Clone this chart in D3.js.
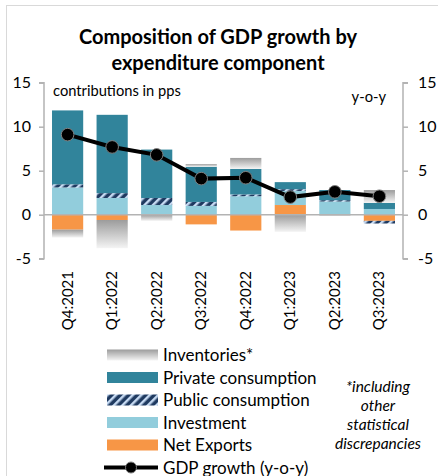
<!DOCTYPE html>
<html>
<head>
<meta charset="utf-8">
<script src="https://d3js.org/d3.v7.min.js"></script>
<style>
  body { margin: 0; background: #fff; }
  svg text { font-family: Lato, "Open Sans", sans-serif; fill: #000; }
</style>
</head>
<body>
<svg id="chart" width="438" height="476"></svg>
<script>
// data (pps contributions)
var quarters = ["Q4:2021", "Q1:2022", "Q2:2022", "Q3:2022", "Q4:2022", "Q1:2023", "Q2:2023", "Q3:2023"];
var netExports   = [-1.7, -0.6, 0.0, -1.1, -1.8, 1.1, 0.0, -0.7];
var investment   = [3.1, 1.9, 1.1, 1.0, 2.1, 1.6, 1.5, 0.65];
var publicCons   = [0.35, 0.55, 0.8, 0.45, 0.2, 0.2, 0.15, -0.3];
var privateCons  = [8.4, 8.9, 5.5, 4.0, 2.9, 0.8, 1.15, 0.7];
var inventories  = [-0.9, -3.2, -0.7, 0.3, 1.25, -1.95, -0.15, 1.45];
var gdpGrowth    = [9.1, 7.7, 6.8, 4.1, 4.2, 2.0, 2.6, 2.1];
var yTicks = [-5, 0, 5, 10, 15];

var series = [
  { name: "Net Exports", values: netExports, fill: "#F79646" },
  { name: "Investment", values: investment, fill: "#92CDDC" },
  { name: "Public consumption", values: publicCons, fill: "url(#hatch)" },
  { name: "Private consumption", values: privateCons, fill: "#31849B" },
  { name: "Inventories*", values: inventories, fill: "url(#invGrad)" }
];

var svg = d3.select("#chart");
var defs = svg.append("defs");

var hatch = defs.append("pattern")
  .attr("id", "hatch")
  .attr("patternUnits", "userSpaceOnUse")
  .attr("width", 6).attr("height", 6)
  .attr("patternTransform", "rotate(45)");
hatch.append("rect").attr("width", 6).attr("height", 6).attr("fill", "#1F3A60");
hatch.append("rect").attr("width", 2.5).attr("height", 6).attr("fill", "#C6DAF2");

var grad = defs.append("linearGradient")
  .attr("id", "invGrad")
  .attr("x1", 0).attr("y1", 0).attr("x2", 0).attr("y2", 1);
grad.append("stop").attr("offset", "0%").attr("stop-color", "#9c9c9c");
grad.append("stop").attr("offset", "100%").attr("stop-color", "#f4f4f4");

// chart border
svg.append("rect")
  .attr("x", 6.5).attr("y", 5.5)
  .attr("width", 440).attr("height", 480)
  .attr("fill", "none").attr("stroke", "#d9d9d9");

// title
svg.append("text").attr("x", 218).attr("y", 44)
  .attr("text-anchor", "middle").style("font-size", "20px").style("font-weight", "bold")
  .text("Composition of GDP growth by");
svg.append("text").attr("x", 218).attr("y", 70)
  .attr("text-anchor", "middle").style("font-size", "20px").style("font-weight", "bold")
  .text("expenditure component");

var xScale = d3.scaleBand().domain(quarters).range([44, 403])
  .paddingInner(0.3).paddingOuter(0.18);
var yScale = d3.scaleLinear().domain([-5, 15]).range([258.7, 82.7]);

// stacking: positives from zero upward, negatives from zero downward in series order
var rects = [];
quarters.forEach(function(q, i) {
  var pos = 0, neg = 0;
  series.forEach(function(s) {
    var v = s.values[i];
    if (v >= 0) {
      rects.push({ q: q, y0: pos, y1: pos + v, fill: s.fill });
      pos += v;
    } else {
      rects.push({ q: q, y0: neg + v, y1: neg, fill: s.fill });
      neg += v;
    }
  });
});

svg.append("g").selectAll("rect")
  .data(rects.filter(function(d) { return d.y1 - d.y0 > 0; }))
  .enter().append("rect")
  .attr("x", function(d) { return xScale(d.q); })
  .attr("width", xScale.bandwidth())
  .attr("y", function(d) { return yScale(d.y1); })
  .attr("height", function(d) { return yScale(d.y0) - yScale(d.y1); })
  .attr("fill", function(d) { return d.fill; });

// zero line
svg.append("line")
  .attr("x1", 44).attr("x2", 403)
  .attr("y1", yScale(0)).attr("y2", yScale(0))
  .attr("stroke", "#b3b3b3").attr("stroke-width", 1.5);

// axes
var fmt = function(d) { return String(d); };
var leftAxis = svg.append("g").attr("transform", "translate(44,0)")
  .call(d3.axisLeft(yScale).tickValues(yTicks).tickFormat(fmt).tickSize(5).tickPadding(6));
var rightAxis = svg.append("g").attr("transform", "translate(403,0)")
  .call(d3.axisRight(yScale).tickValues(yTicks).tickFormat(fmt).tickSize(5).tickPadding(10));
[leftAxis, rightAxis].forEach(function(ax) {
  ax.select(".domain").attr("stroke", "#b3b3b3").attr("stroke-width", 1.5);
  ax.selectAll(".tick line").attr("stroke", "#b3b3b3").attr("stroke-width", 1.5);
  ax.selectAll(".tick text").style("font-size", "16px").style("font-family", "Lato, sans-serif").attr("fill", "#000");
});
leftAxis.selectAll(".tick text").attr("x", -13);
leftAxis.select(".domain").attr("d", "M-5," + yScale(15) + "H0V" + yScale(-5) + "H-5");
rightAxis.select(".domain").attr("d", "M5," + yScale(15) + "H0V" + yScale(-5) + "H5");

// x labels
svg.append("g").selectAll("text")
  .data(quarters)
  .enter().append("text")
  .attr("transform", function(d) {
    return "translate(" + (xScale(d) + xScale.bandwidth() / 2 + 5) + ",271) rotate(-90)";
  })
  .attr("text-anchor", "end")
  .style("font-size", "15px")
  .text(function(d) { return d; });

// GDP line
var line = d3.line()
  .x(function(d, i) { return xScale(quarters[i]) + xScale.bandwidth() / 2; })
  .y(function(d) { return yScale(d); });
svg.append("path").datum(gdpGrowth)
  .attr("d", line).attr("fill", "none")
  .attr("stroke", "#000").attr("stroke-width", 4);
svg.append("g").selectAll("circle")
  .data(gdpGrowth)
  .enter().append("circle")
  .attr("cx", function(d, i) { return xScale(quarters[i]) + xScale.bandwidth() / 2; })
  .attr("cy", function(d) { return yScale(d); })
  .attr("r", 6.3)
  .attr("fill", "#000").attr("stroke", "#808080").attr("stroke-width", 1);

// annotations
svg.append("text").attr("x", 53).attr("y", 96).style("font-size", "14.7px").text("contributions in pps");
svg.append("text").attr("x", 386).attr("y", 102).attr("text-anchor", "end")
  .style("font-size", "14.7px").text("y-o-y");

// legend
var legendItems = [
  { name: "Inventories*", fill: "url(#invGrad)" },
  { name: "Private consumption", fill: "#31849B" },
  { name: "Public consumption", fill: "url(#hatch)" },
  { name: "Investment", fill: "#92CDDC" },
  { name: "Net Exports", fill: "#F79646" }
];
var legend = svg.append("g");
legendItems.forEach(function(item, i) {
  var cy = 355 + i * 22.5;
  legend.append("rect").attr("x", 107).attr("y", cy - 5.5)
    .attr("width", 51).attr("height", 11).attr("fill", item.fill);
  legend.append("text").attr("x", 163).attr("y", cy + 6)
    .style("font-size", "17px").text(item.name);
});
var gy = 355 + 5 * 22.5;
legend.append("line").attr("x1", 104).attr("x2", 158).attr("y1", gy).attr("y2", gy)
  .attr("stroke", "#000").attr("stroke-width", 4);
legend.append("circle").attr("cx", 131).attr("cy", gy).attr("r", 5.5)
  .attr("fill", "#000").attr("stroke", "#808080");
legend.append("text").attr("x", 163).attr("y", gy + 6)
  .style("font-size", "17px").text("GDP growth (y-o-y)");

// footnote
["*including", "other", "statistical", "discrepancies"].forEach(function(t, i) {
  svg.append("text").attr("x", 378).attr("y", 392 + i * 19)
    .attr("text-anchor", "middle").style("font-size", "15.5px").style("font-style", "italic")
    .text(t);
});
</script>
</body>
</html>
